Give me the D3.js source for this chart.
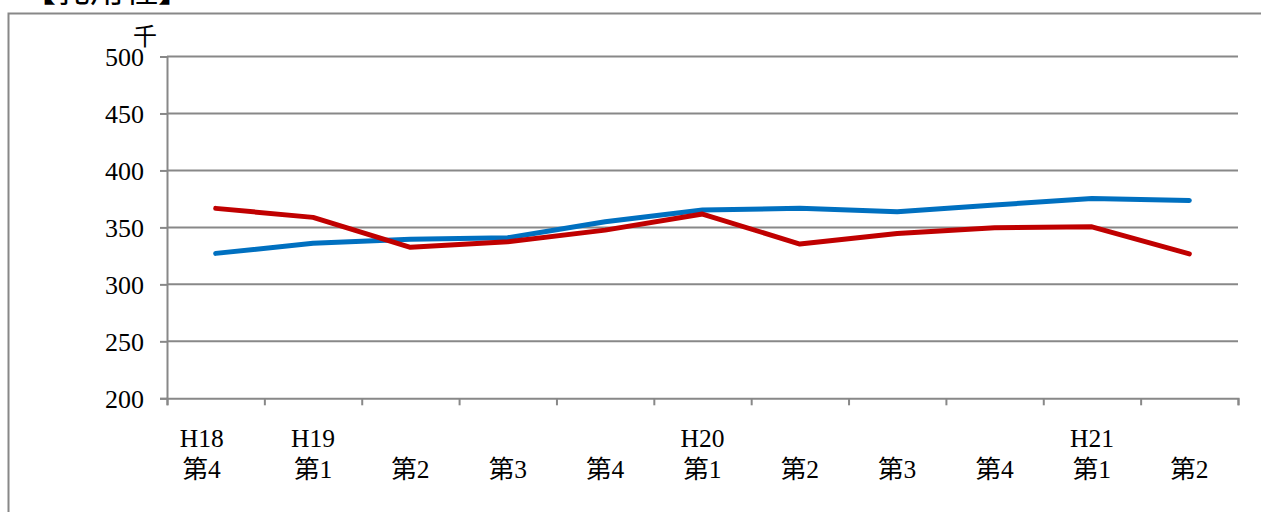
<!DOCTYPE html>
<html>
<head>
<meta charset="utf-8">
<script src="https://cdn.jsdelivr.net/npm/d3@7"></script>
<style>
  html, body { margin: 0; padding: 0; background: #fff; }
  svg { display: block; }
  text { font-family: "Liberation Serif", "Noto Sans CJK JP", serif; fill: #000; }
</style>
</head>
<body>
<svg id="chart" width="1261" height="512"></svg>
<script>
const title = "【乳用種】";
const unitLabel = "千";
const yearLabels = ["H18", "H19", "", "", "", "H20", "", "", "", "H21", ""];
const quarterLabels = ["第4", "第1", "第2", "第3", "第4", "第1", "第2", "第3", "第4", "第1", "第2"];
const redSeries = [366.7, 358.8, 332.5, 337.4, 347.6, 361.7, 335.4, 344.7, 349.7, 350.5, 326.8];
const blueSeries = [327.2, 336.0, 339.7, 340.9, 354.9, 365.2, 366.7, 363.7, 369.6, 375.4, 373.7];
const yTicks = [200, 250, 300, 350, 400, 450, 500];

const svg = d3.select("#chart");
const gridColor = "#888888";

// outer frame (extends beyond the visible area)
svg.append("rect")
  .attr("x", 8.5).attr("y", 13.5)
  .attr("width", 1300).attr("height", 600)
  .attr("fill", "none").attr("stroke", gridColor).attr("stroke-width", 2);

// title, mostly cut off at top
svg.append("text")
  .attr("x", 22).attr("y", 2)
  .style("font-family", "'Noto Sans CJK JP'")
  .attr("font-size", 34)
  .text(title);

const left = 167, right = 1238;
const x = d3.scaleBand().domain(d3.range(quarterLabels.length)).range([left, right]).padding(0);
const xEdge = d3.scaleLinear().domain([0, quarterLabels.length]).range([left, right]);
const y = d3.scaleLinear().domain([200, 500]).range([398.3, 56.5]);

// gridlines + y axis
const yAxis = d3.axisLeft(y).tickValues(yTicks).tickSize(7).tickFormat(d3.format("d"));
const gy = svg.append("g").attr("transform", `translate(${left},0)`).call(yAxis);
gy.select(".domain").attr("stroke", gridColor).attr("stroke-width", 2);
gy.selectAll(".tick line").attr("stroke", gridColor).attr("stroke-width", 2);
gy.selectAll(".tick text")
  .style("font-family", "'Liberation Serif', serif")
  .attr("font-size", 26)
  .attr("x", -23)
  .attr("dy", null)
  .attr("y", 9)
  .attr("fill", "#000");

svg.append("g").selectAll("line.grid")
  .data(yTicks.filter(d => d !== 200))
  .join("line")
  .attr("x1", left).attr("x2", right)
  .attr("y1", d => y(d)).attr("y2", d => y(d))
  .attr("stroke", gridColor).attr("stroke-width", 2);

// x axis
const xAxis = d3.axisBottom(xEdge).tickValues(d3.range(quarterLabels.length + 1)).tickSize(7).tickFormat("");
const gx = svg.append("g").attr("transform", `translate(0,${y(200)})`).call(xAxis);
gx.select(".domain").attr("stroke", gridColor).attr("stroke-width", 2);
gx.selectAll(".tick line").attr("stroke", gridColor).attr("stroke-width", 2);

// x labels
const labelX = i => x(i) + x.bandwidth() / 2 + (i === 0 ? -14 : 0);
svg.append("g").selectAll("text.yr")
  .data(yearLabels)
  .join("text")
  .attr("x", (d, i) => labelX(i))
  .attr("y", 447)
  .attr("text-anchor", "middle")
  .attr("font-size", 25.5)
  .text(d => d);
svg.append("g").selectAll("text.q")
  .data(quarterLabels)
  .join("text")
  .attr("x", (d, i) => labelX(i))
  .attr("y", 478)
  .attr("text-anchor", "middle")
  .attr("font-size", 25.5)
  .text(d => d);

// unit label
svg.append("text")
  .attr("x", 145).attr("y", 45)
  .attr("text-anchor", "middle")
  .style("font-family", "'Noto Sans CJK JP'")
  .attr("font-size", 24)
  .text(unitLabel);

// lines
const line = d3.line()
  .x((d, i) => x(i) + x.bandwidth() / 2)
  .y(d => y(d));

svg.append("path")
  .datum(blueSeries)
  .attr("d", line)
  .attr("fill", "none")
  .attr("stroke", "#0070C0")
  .attr("stroke-width", 5)
  .attr("stroke-linecap", "round")
  .attr("stroke-linejoin", "round");

svg.append("path")
  .datum(redSeries)
  .attr("d", line)
  .attr("fill", "none")
  .attr("stroke", "#C00000")
  .attr("stroke-width", 5)
  .attr("stroke-linecap", "round")
  .attr("stroke-linejoin", "round");
</script>
</body>
</html>
